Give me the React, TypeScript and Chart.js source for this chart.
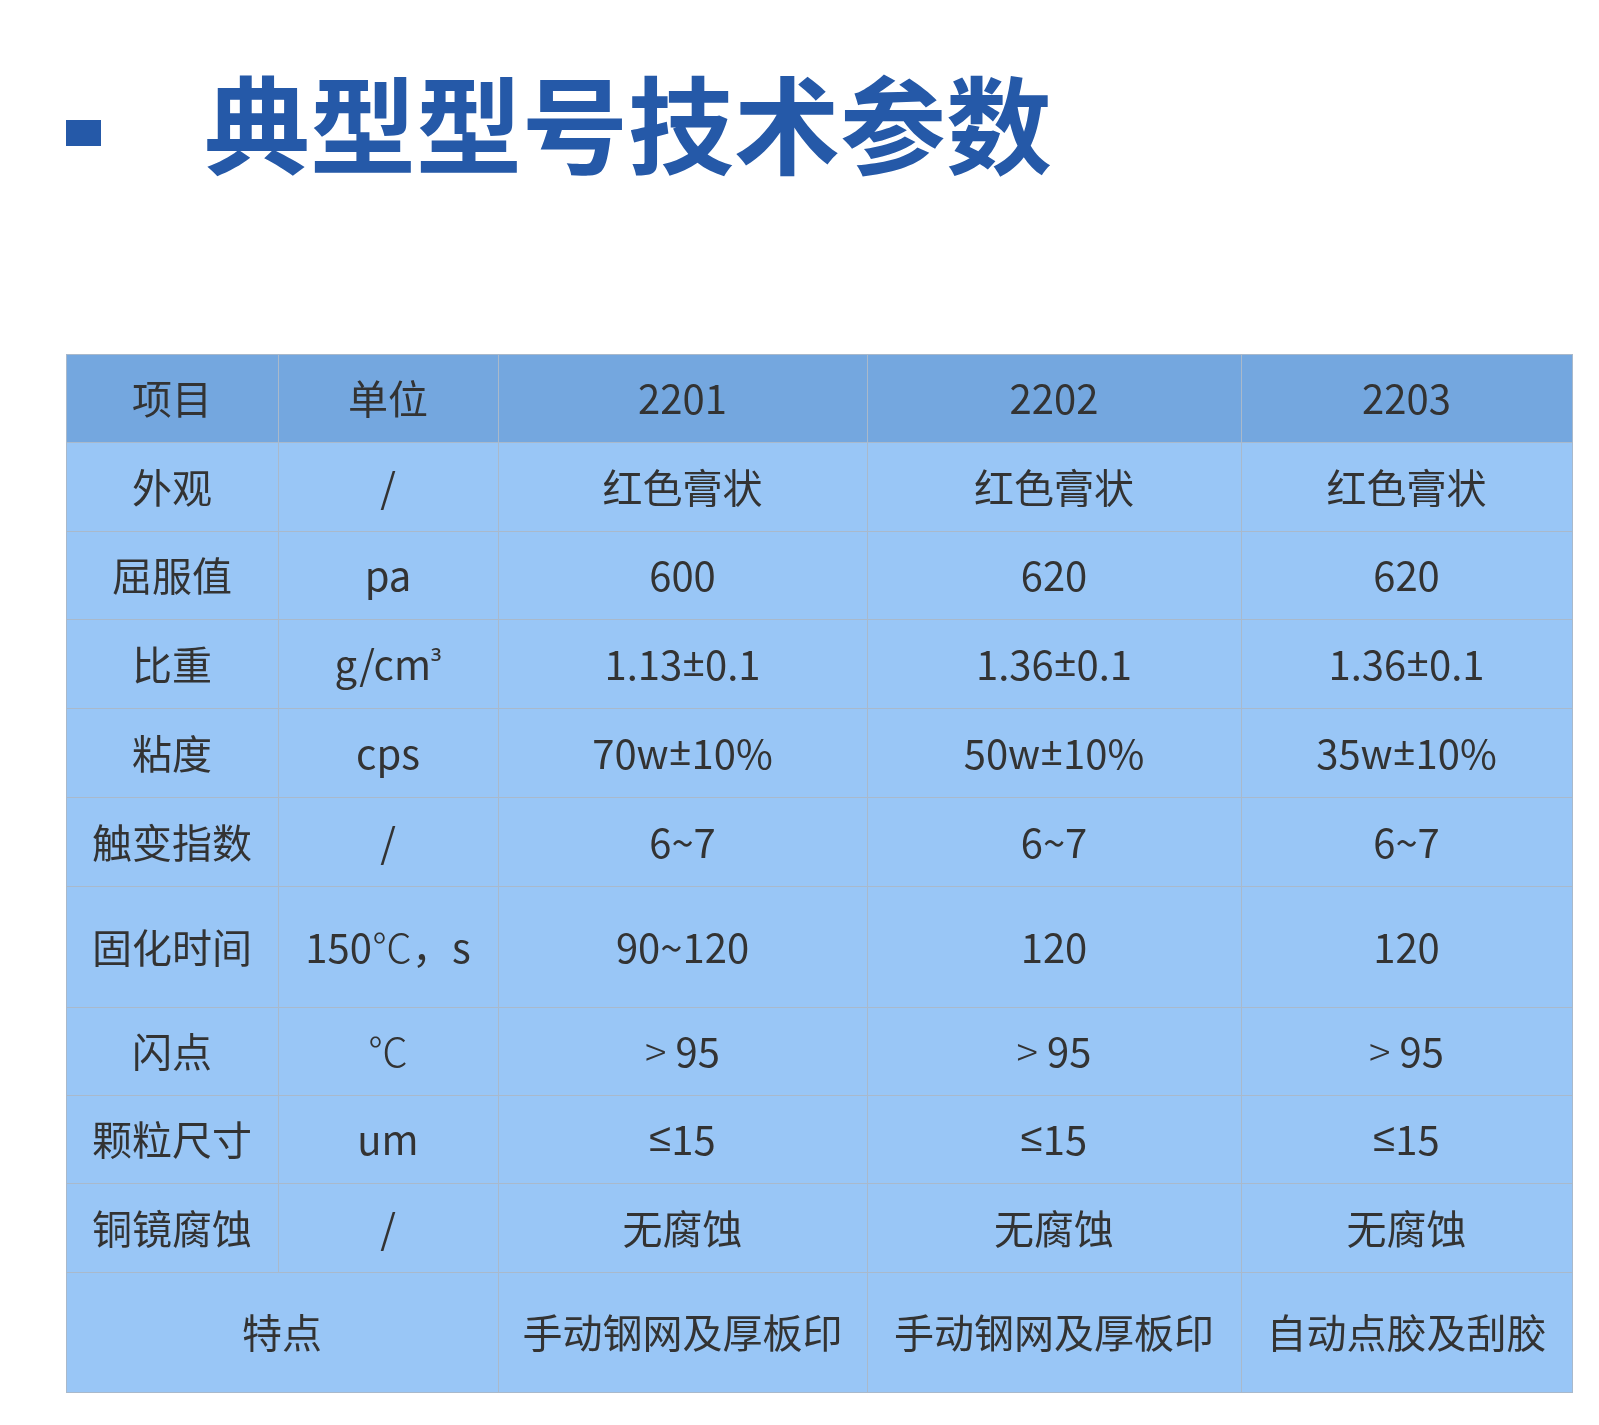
import React, { useEffect, useRef } from "react";
import { Chart, registerables } from "chart.js";

Chart.register(...registerables);

// ---- data ----
const title = "典型型号技术参数";
const headers = ["项目", "单位", "2201", "2202", "2203"];
const items = ["外观", "屈服值", "比重", "粘度", "触变指数", "固化时间", "闪点", "颗粒尺寸", "铜镜腐蚀"];
const units = ["/", "pa", "g/cm³", "cps", "/", "150℃，s", "℃", "um", "/"];
const model2201 = ["红色膏状", "600", "1.13±0.1", "70w±10%", "6~7", "90~120", "> 95", "≤15", "无腐蚀"];
const model2202 = ["红色膏状", "620", "1.36±0.1", "50w±10%", "6~7", "120", "> 95", "≤15", "无腐蚀"];
const model2203 = ["红色膏状", "620", "1.36±0.1", "35w±10%", "6~7", "120", "> 95", "≤15", "无腐蚀"];
const featureLabel = "特点";
const features = ["手动钢网及厚板印", "手动钢网及厚板印", "自动点胶及刮胶"];

// ---- layout (table units) ----
const COL_WIDTHS = [212, 220, 369, 374, 331];
const ROW_HEIGHTS = [88, 89, 88, 89, 89, 89, 121, 88, 88, 89, 120];

const HEADER_FILL = "#74a7df";
const BODY_FILL = "#99c6f6";
const LINE_COLOR = "#a9b9cb";
const TEXT_COLOR = "#333333";
const TITLE_COLOR = "#2559a8";
const FONT = '40px "Noto Sans CJK SC", "Noto Sans", sans-serif';
const LATIN_FONT = '40px "Noto Sans", sans-serif';
const SMALL_FONT = '30px "Noto Sans", sans-serif';
const THIN_FONT = '300 40px "Noto Sans CJK JP", "Noto Sans CJK SC", sans-serif';
const LIGHT_FONT = '300 40px "Noto Sans CJK SC", sans-serif';
const LATIN_CHARS = "±≤";
const SUPER_CHARS = "³";
const THIN_CHARS = "℃";
const LIGHT_CHARS = ">";

const cum = (a: number[]) => {
  const out = [0];
  a.forEach((v) => out.push(out[out.length - 1] + v));
  return out;
};
const colEdges = cum(COL_WIDTHS);
const rowEdges = cum(ROW_HEIGHTS);

type Cell = { c0: number; c1: number; r: number; text: string; fill: string };

function buildCells(): Cell[] {
  const cells: Cell[] = [];
  headers.forEach((h, c) => cells.push({ c0: c, c1: c + 1, r: 0, text: h, fill: HEADER_FILL }));
  items.forEach((it, i) => {
    const row = [it, units[i], model2201[i], model2202[i], model2203[i]];
    row.forEach((t, c) => cells.push({ c0: c, c1: c + 1, r: i + 1, text: t, fill: BODY_FILL }));
  });
  const last = items.length + 1;
  cells.push({ c0: 0, c1: 2, r: last, text: featureLabel, fill: BODY_FILL });
  features.forEach((f, k) => cells.push({ c0: k + 2, c1: k + 3, r: last, text: f, fill: BODY_FILL }));
  return cells;
}

function fontFor(ch: string) {
  if (LATIN_CHARS.includes(ch)) return LATIN_FONT;
  if (SUPER_CHARS.includes(ch)) return SMALL_FONT;
  if (THIN_CHARS.includes(ch)) return THIN_FONT;
  if (LIGHT_CHARS.includes(ch)) return LIGHT_FONT;
  return FONT;
}

function drawMixed(ctx: CanvasRenderingContext2D, text: string, cx: number, cy: number) {
  const runs: { font: string; s: string }[] = [];
  for (const ch of Array.from(text)) {
    const f = fontFor(ch);
    if (runs.length && runs[runs.length - 1].font === f) runs[runs.length - 1].s += ch;
    else runs.push({ font: f, s: ch });
  }
  let total = 0;
  const widths = runs.map((r) => {
    ctx.font = r.font;
    const w = ctx.measureText(r.s).width;
    total += w;
    return w;
  });
  let x = cx - total / 2;
  ctx.textAlign = "left";
  ctx.textBaseline = "middle";
  runs.forEach((r, i) => {
    ctx.font = r.font;
    ctx.fillText(r.s, x, cy);
    x += widths[i];
  });
}

const tablePlugin = {
  id: "tablePlugin",
  beforeDatasetsDraw(chart: any) {
    const { ctx, scales } = chart;
    const x = scales.x;
    const y = scales.y;
    const cells = buildCells();
    const px = (v: number) => Math.round(x.getPixelForValue(v));
    const py = (v: number) => Math.round(y.getPixelForValue(v));
    ctx.save();
    cells.forEach((cell) => {
      const x0 = px(colEdges[cell.c0]);
      const x1 = px(colEdges[cell.c1]);
      const y0 = py(rowEdges[cell.r]);
      const y1 = py(rowEdges[cell.r + 1]);
      ctx.fillStyle = cell.fill;
      ctx.fillRect(x0, y0, x1 - x0, y1 - y0);
    });
    ctx.strokeStyle = LINE_COLOR;
    ctx.lineWidth = 1;
    cells.forEach((cell) => {
      const x0 = px(colEdges[cell.c0]);
      const x1 = px(colEdges[cell.c1]);
      const y0 = py(rowEdges[cell.r]);
      const y1 = py(rowEdges[cell.r + 1]);
      ctx.strokeRect(x0 + 0.5, y0 + 0.5, x1 - x0, y1 - y0);
    });
    ctx.fillStyle = TEXT_COLOR;
    cells.forEach((cell) => {
      const cx = x.getPixelForValue((colEdges[cell.c0] + colEdges[cell.c1]) / 2);
      const cy = y.getPixelForValue((rowEdges[cell.r] + rowEdges[cell.r + 1]) / 2);
      drawMixed(ctx, cell.text, cx, cy + 1);
    });
    ctx.restore();
  },
};

export default function App() {
  const canvasRef = useRef<HTMLCanvasElement | null>(null);

  useEffect(() => {
    if (!canvasRef.current) return;
    const chart = new Chart(canvasRef.current, {
      type: "scatter",
      data: { datasets: [{ data: [] }] },
      options: {
        animation: false,
        responsive: true,
        maintainAspectRatio: false,
        layout: { padding: { left: 66, top: 354, right: 27, bottom: 33 } },
        plugins: { legend: { display: false }, tooltip: { enabled: false }, title: { display: false } },
        scales: {
          x: { type: "linear", display: false, min: 0, max: colEdges[colEdges.length - 1] },
          y: { type: "linear", display: false, reverse: true, min: 0, max: rowEdges[rowEdges.length - 1] },
        },
      },
      plugins: [tablePlugin],
    });
    return () => chart.destroy();
  }, []);

  return (
    <div style={{ position: "absolute", left: 0, top: 0, width: 1599, height: 1425, background: "#ffffff" }}>
      <div
        style={{
          position: "absolute",
          left: 66,
          top: 120,
          width: 35,
          height: 26,
          background: TITLE_COLOR,
        }}
      />
      <div
        style={{
          position: "absolute",
          left: 204,
          top: 67,
          fontFamily: '"Noto Sans CJK SC", sans-serif',
          fontWeight: 700,
          fontSize: 106,
          lineHeight: "106px",
          color: TITLE_COLOR,
          whiteSpace: "nowrap",
        }}
      >
        {title}
      </div>
      <div style={{ position: "absolute", left: 0, top: 0, width: 1599, height: 1425 }}>
        <canvas ref={canvasRef} />
      </div>
    </div>
  );
}
